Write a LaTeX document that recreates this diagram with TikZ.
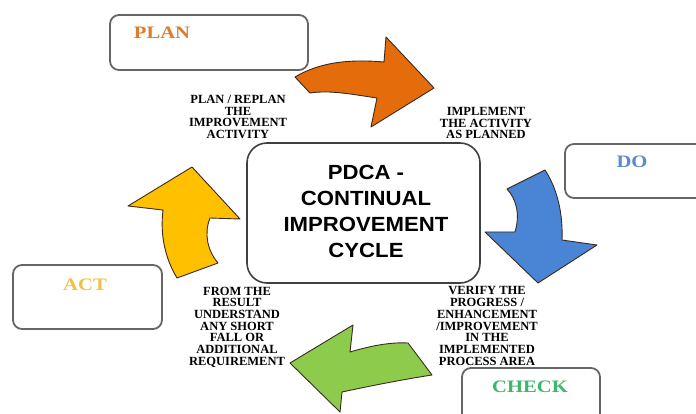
\documentclass[tikz,border=0pt]{standalone}
\usepackage{fontspec}
\setmainfont{Liberation Serif}
\setsansfont{Liberation Sans}
\newfontfamily\widserif[FakeStretch=1.18]{Liberation Serif}
\newfontfamily\widsans[FakeStretch=1.08]{Liberation Sans}
\begin{document}
\begin{tikzpicture}[x=1pt,y=-1pt,
  phasebox/.style={draw=boxgray,line width=1.8pt,rounded corners=9pt,fill=white},
  phasetext/.style={font=\widserif\fontsize{17.5}{20}\selectfont\bfseries},
  steptext/.style={align=center,font=\fontsize{12.5}{11.7}\selectfont\bfseries,inner sep=0pt},
  bigarrow/.style={draw=arrowedge,line width=0.9pt,line join=round}]
\definecolor{boxgray}{HTML}{666666}
\definecolor{arrowedge}{HTML}{3A2A20}
\definecolor{planorange}{HTML}{E46C0A}
\definecolor{doblue}{HTML}{4A84D4}
\definecolor{checkgreen}{HTML}{8DCB4C}
\definecolor{actyellow}{HTML}{FFC000}
\definecolor{plantxt}{HTML}{E07A2C}
\definecolor{dotxt}{HTML}{5B8BCB}
\definecolor{checktxt}{HTML}{3DB86A}
\definecolor{acttxt}{HTML}{F2C140}
\useasboundingbox (0,0) rectangle (696,414);
\fill[white] (0,0) rectangle (696,414);

% phase boxes
\draw[phasebox] (110,15) rectangle (308,70);
\node[phasetext,text=plantxt] (plan) at (162,33) {PLAN};
\draw[phasebox] (565,144) rectangle (705,198);
\node[phasetext,text=dotxt] (do) at (632,162) {DO};
\draw[phasebox] (462,368) rectangle (600,425);
\node[phasetext,text=checktxt] (check) at (530,387) {CHECK};
\draw[phasebox] (13,265) rectangle (162,329);
\node[phasetext,text=acttxt] (act) at (85,285) {ACT};

% centre box
\draw[draw=black!75,line width=1.6pt,rounded corners=20pt,fill=white] (247,143) rectangle (480,283);
\node[align=center,font=\widsans\bfseries\fontsize{20.5}{26}\selectfont,inner sep=0pt] (centre) at (366,211)
  {PDCA -\\CONTINUAL\\IMPROVEMENT\\CYCLE};

% arrows
\filldraw[bigarrow,fill=planorange]
  (295,77) .. controls (320,62) and (350,59) .. (384,62) -- (386,37) -- (434,88) -- (371,127)
  -- (377,98) .. controls (350,94) and (330,90) .. (310,93) -- cycle;
\filldraw[bigarrow,fill=doblue]
  (507,189) -- (545,170) .. controls (558,190) and (563,215) .. (562,240) -- (597,245)
  -- (538,283) -- (485,232) -- (515,232) .. controls (520,215) and (517,200) .. cycle;
\filldraw[bigarrow,fill=checkgreen]
  (290,363) -- (353,325) -- (350,352) .. controls (370,346) and (390,342) .. (408,343)
  -- (432,375) .. controls (400,380) and (370,386) .. (342,392) -- (340,412) -- cycle;
\filldraw[bigarrow,fill=actyellow]
  (192,167) -- (240,219) -- (210,218) .. controls (204,233) and (207,250) .. (218,263)
  -- (177,278) .. controls (165,258) and (160,235) .. (163,210) -- (128,206) -- cycle;

% step texts
\node[steptext] (plantext) at (238,117) {PLAN / REPLAN\\THE\\IMPROVEMENT\\ACTIVITY};
\node[steptext] (dotext) at (486,123) {IMPLEMENT\\THE ACTIVITY\\AS PLANNED};
\node[steptext] (checktext) at (487,326) {VERIFY THE\\PROGRESS /\\ENHANCEMENT\\/IMPROVEMENT\\IN THE\\IMPLEMENTED\\PROCESS AREA};
\node[steptext] (acttext) at (237,327) {FROM THE\\RESULT\\UNDERSTAND\\ANY SHORT\\FALL OR\\ADDITIONAL\\REQUIREMENT};
\end{tikzpicture}
\end{document}
